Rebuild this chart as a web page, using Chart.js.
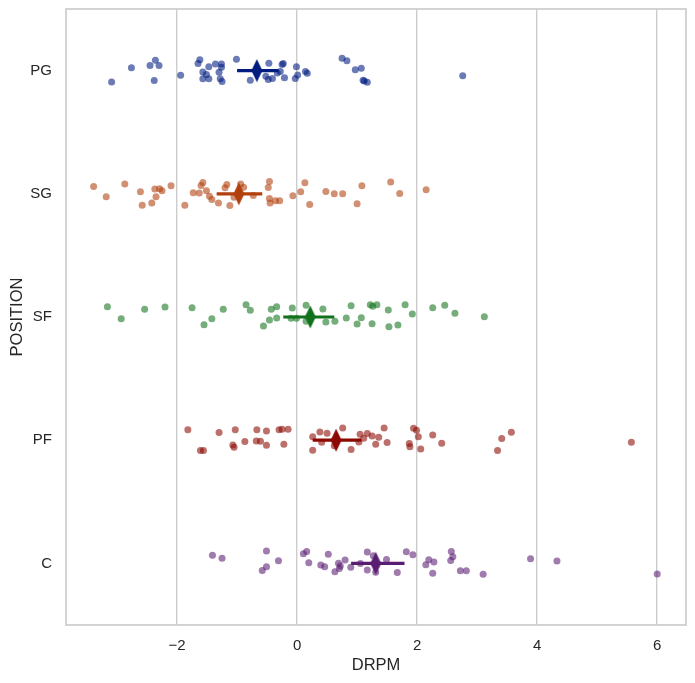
<!DOCTYPE html>
<html>
<head>
<meta charset="utf-8">
<script src="https://cdn.jsdelivr.net/npm/chart.js@4/dist/chart.umd.min.js"></script>
<style>
  body { margin: 0; background: #fff; }
  #wrap { width: 695px; height: 683px; }
</style>
</head>
<body>
<div id="wrap"><canvas id="myChart0" width="695" height="683"></canvas></div>
<script>
// categories (top to bottom)
var positions = ['PG', 'SG', 'SF', 'PF', 'C'];
var xTicks = [-2, 0, 2, 4, 6];

// DRPM per player, and the strip jitter
var drpmPG = [-3.09, -2.76, -2.45, -2.36, -2.30, -2.38, -1.94, -1.62, -1.65, -1.47, -1.36, -1.26, -1.26, -1.57, -1.51,
  -1.30, -1.57, -1.47, -1.28, -1.25, -1.01, -0.78, -0.47, -0.25, -0.23, -0.28, -0.33, -0.52, -0.48, -0.41, -0.21,
  -0.01, 0.01, -0.03, 0.14, 0.17, 0.75, 0.83, 0.97, 1.07, 1.10, 1.12, 1.17, 2.76];
var jitPG = [0.092, -0.024, -0.041, -0.084, -0.041, 0.081, 0.038, -0.089, -0.057, -0.032, -0.054, -0.054, -0.027, 0.011, 0.032,
  0.014, 0.067, 0.067, 0.067, 0.089, -0.092, 0.079, -0.059, -0.049, -0.057, 0.008, 0.019, 0.046, 0.073, 0.065, 0.059,
  -0.032, 0.035, 0.065, 0.008, 0.022, -0.1, -0.079, -0.006, -0.019, 0.079, 0.084, 0.095, 0.041];

var drpmSG = [-3.39, -3.18, -2.87, -2.61, -2.58, -2.42, -2.35, -2.37, -2.29, -2.25, -2.10, -1.87, -1.73, -1.63, -1.60,
  -1.57, -1.51, -1.46, -1.42, -1.31, -1.20, -1.17, -1.12, -1.05, -0.94, -0.89, -0.73, -0.48, -0.46, -0.46, -0.45,
  -0.36, -0.29, -0.07, 0.06, 0.13, 0.21, 0.48, 0.62, 0.76, 1.00, 1.08, 1.56, 1.71, 2.15];
var jitSG = [-0.059, 0.024, -0.079, -0.016, 0.092, 0.075, 0.024, -0.038, -0.041, -0.024, -0.065, 0.092, -0.008, -0.006, -0.067,
  -0.092, -0.024, 0.019, 0.046, 0.075, -0.049, -0.075, 0.095, 0.027, -0.079, -0.054, 0.014, -0.051, -0.1, 0.038, 0.075,
  0.057, 0.057, 0.016, -0.016, -0.089, 0.087, -0.019, 0, 0, 0.081, -0.065, -0.095, -0.002, -0.032];

var drpmSF = [-3.16, -2.93, -2.54, -2.20, -1.75, -1.55, -1.42, -1.23, -0.85, -0.78, -0.56, -0.46, -0.43, -0.34, -0.34,
  -0.08, -0.10, -0.01, 0.15, 0.15, 0.43, 0.48, 0.63, 0.82, 0.90, 1.00, 1.07, 1.22, 1.26, 1.33, 1.25, 1.52, 1.53,
  1.68, 1.80, 1.92, 2.26, 2.46, 2.63, 3.12];
var jitSF = [-0.084, 0.014, -0.062, -0.081, -0.075, 0.062, 0.014, -0.062, -0.1, -0.054, 0.073, 0.024, -0.062, -0.084, 0.008,
  -0.073, 0.011, 0.011, -0.095, 0.035, -0.065, 0.041, 0.035, 0.008, -0.092, 0.057, 0.006, -0.1, -0.087, -0.1, 0.054,
  -0.057, 0.079, 0.065, -0.1, -0.024, -0.075, -0.095, -0.030, -0.002];

var drpmPF = [-1.82, -1.61, -1.56, -1.30, -1.03, -1.07, -1.05, -0.87, -0.67, -0.68, -0.61, -0.51, -0.51, -0.30, -0.25,
  -0.15, -0.22, 0.26, 0.26, 0.38, 0.41, 0.50, 0.62, 0.76, 0.90, 1.03, 1.05, 1.11, 1.17, 1.25, 1.31, 1.36, 1.45,
  1.50, 1.87, 1.88, 1.94, 1.99, 2.02, 2.06, 2.26, 2.41, 3.34, 3.41, 3.57, 5.57];
var jitPF = [-0.084, 0.084, 0.084, -0.062, -0.084, 0.038, 0.057, 0.011, -0.084, 0.006, 0.008, -0.075, 0.041, -0.084, -0.089,
  -0.089, 0.032, -0.027, 0.081, -0.067, 0.016, -0.057, 0.046, -0.1, 0.075, 0.014, -0.049, -0.016, -0.054, -0.035, 0.032,
  -0.024, -0.1, 0.019, 0.027, 0.054, -0.097, -0.081, -0.027, 0.071, -0.043, 0.024, 0.084, -0.014, -0.065, 0.016];

var drpmC = [-1.41, -1.25, -0.51, -0.58, -0.51, -0.31, 0.105, 0.16, 0.195, 0.395, 0.46, 0.52, 0.63, 0.69, 0.72,
  0.705, 0.80, 0.895, 1.055, 1.17, 1.17, 1.27, 1.31, 1.49, 1.67, 1.82, 1.93, 2.145, 2.195, 2.28, 2.26, 2.57,
  2.595, 2.56, 2.72, 2.82, 3.10, 3.89, 4.33, 6.00];
var jitC = [-0.067, -0.041, -0.1, 0.057, 0.027, -0.022, -0.079, -0.097, -0.006, 0.014, 0.027, -0.075, 0.067, -0.002, 0.022,
  0.041, -0.027, 0.032, 0, -0.092, 0.054, -0.062, 0.071, -0.032, 0.073, -0.095, -0.071, 0.011, -0.030, -0.011, 0.079,
  -0.097, -0.054, -0.024, 0.059, 0.059, 0.089, -0.038, -0.019, 0.087];

// mean and confidence interval per position
var meanDRPM = [-0.67, -0.97, 0.22, 0.65, 1.31];
var ciLow = [-1.00, -1.34, -0.23, 0.26, 0.90];
var ciHigh = [-0.31, -0.58, 0.62, 1.07, 1.79];

var allDRPM = [drpmPG, drpmSG, drpmSF, drpmPF, drpmC];
var allJit = [jitPG, jitSG, jitSF, jitPF, jitC];

var pointColors = ['rgba(0,28,127,0.58)', 'rgba(177,64,13,0.58)', 'rgba(18,113,28,0.58)', 'rgba(140,8,0,0.58)', 'rgba(89,30,113,0.58)'];
var meanColors = ['#001c7f', '#b1400d', '#12711c', '#8c0800', '#591e71'];

// thin diamond marker like the seaborn 'd'
function diamond(color) {
  var c = document.createElement('canvas');
  c.width = 12;
  c.height = 24;
  var g = c.getContext('2d');
  g.fillStyle = color;
  g.beginPath();
  g.moveTo(6, 0.5);
  g.lineTo(11.5, 12);
  g.lineTo(6, 23.5);
  g.lineTo(0.5, 12);
  g.closePath();
  g.fill();
  return c;
}

var datasets = [];

// pointplot on top
for (var i = 0; i < positions.length; i++) {
  datasets.push({
    label: positions[i] + ' mean',
    data: [{ x: meanDRPM[i], y: i }],
    pointStyle: diamond(meanColors[i]),
    pointRadius: 6,
    order: 0
  });
  datasets.push({
    label: positions[i] + ' ci',
    data: [{ x: ciLow[i], y: i }, { x: ciHigh[i], y: i }],
    showLine: true,
    borderColor: meanColors[i],
    borderWidth: 3.2,
    pointRadius: 0,
    order: 1
  });
}

// stripplot
for (var i = 0; i < positions.length; i++) {
  var pts = [];
  for (var j = 0; j < allDRPM[i].length; j++) {
    pts.push({ x: allDRPM[i][j], y: i + allJit[i][j] });
  }
  datasets.push({
    label: positions[i],
    data: pts,
    backgroundColor: pointColors[i],
    borderWidth: 0,
    pointRadius: 3.5,
    order: 2
  });
}

var framePlugin = {
  id: 'frame',
  afterDraw: function(chart) {
    var a = chart.chartArea;
    var ctx = chart.ctx;
    ctx.save();
    ctx.strokeStyle = '#cccccc';
    ctx.lineWidth = 1.7;
    ctx.strokeRect(a.left, a.top, a.right - a.left, a.bottom - a.top);
    ctx.restore();
  }
};

var textColor = '#262626';
var fontFam = '"Liberation Sans", Arial, sans-serif';

var ctx = document.getElementById('myChart0');
var StripChart = new Chart(ctx, {
  type: 'scatter',
  data: { datasets: datasets },
  options: {
    responsive: false,
    animation: false,
    layout: { autoPadding: false, padding: { left: 0, right: 9, top: 9, bottom: 0 } },
    plugins: { legend: { display: false }, tooltip: { enabled: false } },
    scales: {
      x: {
        min: -3.85,
        max: 6.48,
        afterBuildTicks: function(scale) {
          scale.ticks = xTicks.map(function(v) { return { value: v }; });
        },
        afterFit: function(scale) {
          scale.height = 58;
          scale.paddingLeft = 0;
          scale.paddingRight = 0;
        },
        ticks: {
          color: textColor,
          padding: 12,
          font: { family: fontFam, size: 15 },
          callback: function(v) { return v < 0 ? '\u2212' + Math.abs(v) : String(v); }
        },
        grid: { color: '#cccccc', lineWidth: 1.4, drawTicks: false },
        border: { display: false },
        title: {
          display: true,
          text: 'DRPM',
          color: textColor,
          font: { family: fontFam, size: 16.5 },
          padding: { top: 4, bottom: 8 }
        }
      },
      y: {
        reverse: true,
        min: -0.5,
        max: 4.5,
        afterBuildTicks: function(scale) {
          scale.ticks = positions.map(function(p, k) { return { value: k }; });
        },
        afterFit: function(scale) {
          scale.width = 66;
          scale.paddingTop = 0;
          scale.paddingBottom = 0;
        },
        ticks: {
          color: textColor,
          padding: 14,
          font: { family: fontFam, size: 15 },
          callback: function(v) { return positions[v]; }
        },
        grid: { display: false, drawTicks: false },
        border: { display: false },
        title: {
          display: true,
          text: 'POSITION',
          color: textColor,
          font: { family: fontFam, size: 16.5 },
          padding: { top: 8, bottom: 4 }
        }
      }
    }
  },
  plugins: [framePlugin]
});
</script>
</body>
</html>
